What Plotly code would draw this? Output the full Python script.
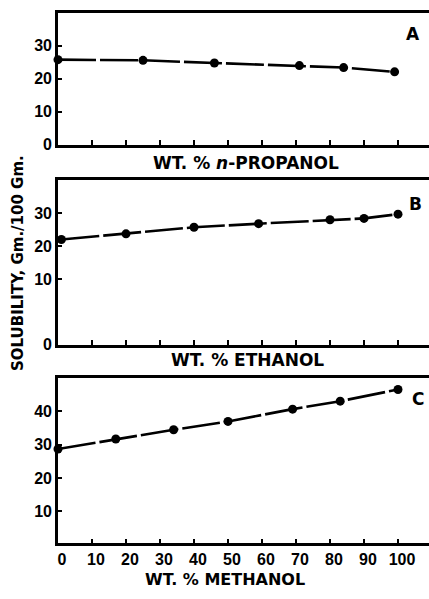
import plotly.graph_objects as go

# Panel A: n-propanol
a_x = [0, 25, 46, 71, 84, 99]
a_y = [25.8, 25.6, 24.8, 24.0, 23.4, 22.1]
# Panel B: ethanol
b_x = [1, 20, 40, 59, 80, 90, 100]
b_y = [22.0, 23.7, 25.7, 26.8, 28.0, 28.4, 29.7]
# Panel C: methanol
c_x = [0, 17, 34, 50, 69, 83, 100]
c_y = [28.7, 31.7, 34.5, 37.0, 40.7, 43.1, 46.6]

x_ticks = [0, 10, 20, 30, 40, 50, 60, 70, 80, 90, 100]
a_yticks = [0, 10, 20, 30]
b_yticks = [-10, 10, 20, 30]
b_yticktext = ["0", "10", "20", "30"]
c_yticks = [10, 20, 30, 40]

FONT = "Liberation Sans, Arial, sans-serif"
TFONT = "DejaVu Sans, Liberation Sans, sans-serif"
W, H = 429, 599

fig = go.Figure()

line = dict(color="black", width=2.6, dash="38px,4px")
mk = dict(color="black", size=9)
for xs, ys, ax in [(a_x, a_y, ""), (b_x, b_y, "2"), (c_x, c_y, "3")]:
    fig.add_trace(go.Scatter(x=xs, y=ys, mode="lines+markers", line=line, marker=mk,
                             xaxis="x" + ax, yaxis="y" + ax, cliponaxis=False,
                             showlegend=False))

def yd(top, bot):
    return [1 - bot / H, 1 - top / H]

xdom = [58 / W, 1.0]
xr = [0, (W - 58) / 3.4]

common_x = dict(domain=xdom, range=xr, tickvals=x_ticks, ticks="inside", ticklen=5,
                tickwidth=2, tickcolor="black", showline=True, linecolor="black",
                linewidth=2.6, mirror=True, showgrid=False, zeroline=False)
common_y = dict(ticks="inside", ticklen=4, tickwidth=2, tickcolor="black",
                showline=True, linecolor="black", linewidth=2.6, showgrid=False,
                zeroline=False, tickfont=dict(family=FONT, size=16, color="black", weight="bold"))

fig.update_layout(
    width=W, height=H, margin=dict(l=0, r=0, t=0, b=0),
    paper_bgcolor="white", plot_bgcolor="white",
    xaxis=dict(common_x, anchor="y", showticklabels=False),
    yaxis=dict(common_y, domain=yd(13, 147), range=[0, 40], tickvals=a_yticks, anchor="x"),
    xaxis2=dict(common_x, anchor="y2", showticklabels=False),
    yaxis2=dict(common_y, domain=yd(183, 350), range=[-10, 40], tickvals=b_yticks,
                ticktext=b_yticktext, anchor="x2"),
    xaxis3=dict(common_x, anchor="y3", showticklabels=True, ticklabelshift=4,
                tickfont=dict(family=FONT, size=16, color="black", weight="bold")),
    yaxis3=dict(common_y, domain=yd(384, 551.7), range=[0.3, 50], tickvals=c_yticks, anchor="x3"),
)

ann_font = dict(family=TFONT, size=17, color="black", weight="bold")
anns = [
    ("WT. % <i>n</i>-PROPANOL", 246, 165),
    ("WT. % ETHANOL", 247, 365),
    ("A", 413, 35),
    ("B", 415, 207),
    ("C", 418, 405),
]
for t, x, y in anns:
    fig.add_annotation(text=t, x=x / W, y=1 - y / H, xref="paper", yref="paper",
                       showarrow=False, font=ann_font, xanchor="center", yanchor="middle")
fig.add_annotation(text="WT. % METHANOL", x=225 / W, y=0, xref="paper", yref="paper",
                   showarrow=False, font=dict(family=TFONT, size=16, color="black", weight="bold"),
                   xanchor="center", yanchor="bottom", borderpad=0)
fig.add_annotation(text="SOLUBILITY, Gm./100 Gm.", x=18 / W, y=1 - 267 / H, xref="paper",
                   yref="paper", showarrow=False, textangle=-90,
                   font=dict(family=TFONT, size=15, color="black", weight="bold"),
                   xanchor="center", yanchor="middle")

fig.write_html("out.html")
